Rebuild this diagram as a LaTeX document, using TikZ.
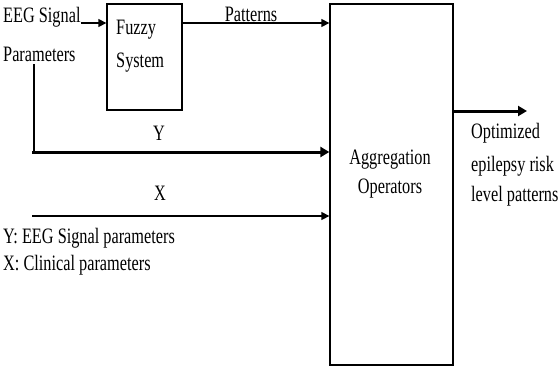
\documentclass[tikz,border=0pt]{standalone}
\usepackage{fontspec}
\usepackage{graphicx}
\setmainfont{Liberation Serif}
\usetikzlibrary{arrows.meta}
% narrow, tall lettering
\newcommand\nar[1]{\scalebox{0.74}[1]{#1}}
\tikzset{
  lbl/.style={inner sep=0pt, font=\fontsize{22}{26}\selectfont},
  blk/.style={draw, line width=1.3pt, inner sep=0pt},
  arr/.style={line width=1.3pt, -{Triangle[length=8pt,width=8pt]}},
  bigarr/.style={line width=3pt, -{Triangle[length=9pt,width=10pt]}},
}
\begin{document}
\begin{tikzpicture}[x=1pt,y=-1pt]
\useasboundingbox (0,0) rectangle (559,372);

% blocks
\node[blk, minimum width=75pt, minimum height=106pt] (fuzzy) at (144.5,57) {};
\node[blk, minimum width=123pt, minimum height=361pt] (agg) at (391.5,184.5) {};

% block texts
\node[lbl, anchor=west] (fz1) at (116,30) {\nar{Fuzzy}};
\node[lbl, anchor=west] (fz2) at (116,63) {\nar{System}};
\node[lbl] (ag1) at (390,160) {\nar{Aggregation}};
\node[lbl] (ag2) at (390,189) {\nar{Operators}};

% inputs
\node[lbl, anchor=west] (eeg) at (3,17) {\nar{EEG Signal}};
\node[lbl, anchor=west] (par) at (3,54) {\nar{Parameters}};
\coordinate (ein) at (eeg.east |- 0,23);
\draw[arr] (ein) -- (fuzzy.west |- ein);

% fuzzy output
\coordinate (fout) at (fuzzy.east |- 0,23);
\draw[arr] (fout) -- node[lbl, above=1pt, xshift=-5pt] (pat) {\nar{Patterns}} (agg.west |- fout);

% Y path
\coordinate (ytop) at (34,64);
\coordinate (ybot) at (34,152);
\draw[line width=1.3pt] (ytop) -- (ybot);
\draw[bigarr] ([xshift=-2pt]ybot) -- (agg.west |- ybot);
\node[lbl] (ylab) at (159,133) {\nar{Y}};

% X path
\coordinate (xst) at (32,216);
\draw[arr] (xst) -- (agg.west |- xst);
\node[lbl] (xlab) at (160,193) {\nar{X}};

% legend
\node[lbl, anchor=west] (leg1) at (3,238) {\nar{Y: EEG Signal parameters}};
\node[lbl, anchor=west] (leg2) at (3,265) {\nar{X: Clinical parameters}};

% output
\coordinate (oend) at (527,111);
\draw[bigarr] (agg.east |- oend) -- (oend);
\node[lbl, anchor=west] (o1) at (471,133) {\nar{Optimized}};
\node[lbl, anchor=west] (o2) at (471,166) {\nar{epilepsy risk}};
\node[lbl, anchor=west] (o3) at (471,196) {\nar{level patterns}};
\end{tikzpicture}
\end{document}
